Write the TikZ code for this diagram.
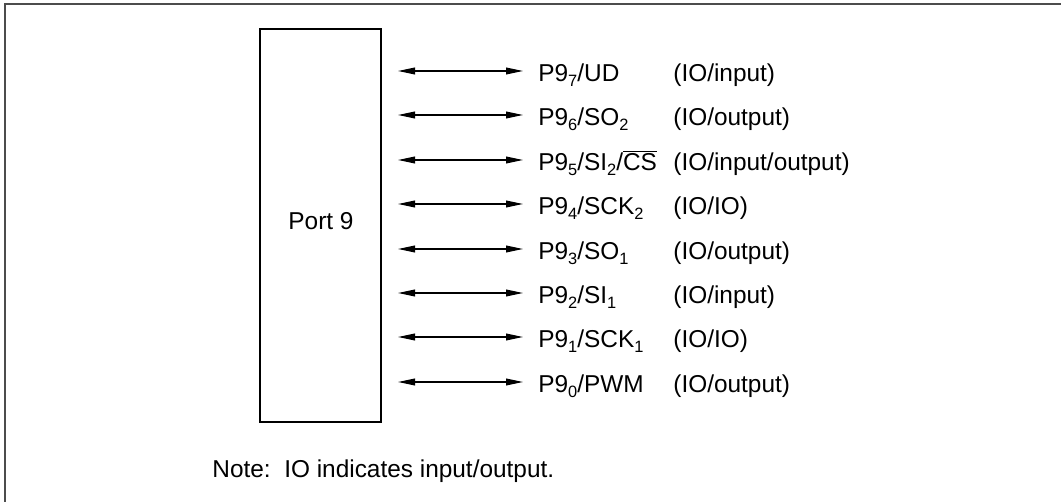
\documentclass[tikz,border=0pt]{standalone}
\usepackage{fontspec}
\setmainfont{Liberation Sans}
\usepackage{tikz}
\usetikzlibrary{
  arrows.meta,
  positioning,
}
\newcommand{\pinsub}[1]{\raisebox{-2.3bp}{\fontsize{8.2bp}{9bp}\selectfont #1}}

\begin{document}
\begin{tikzpicture}[
  x=0.5bp, y=-0.5bp,
  portbox/.style={
    draw, line width=1bp, minimum width=60.5bp, minimum height=196.5bp,
    inner sep=0pt,
  },
  pin/.style={anchor=base west, inner sep=0pt, font=\fontsize{12.2bp}{14bp}\selectfont},
  lbl/.style={inner sep=0pt, font=\fontsize{12.2bp}{14bp}\selectfont},
  sig/.style={{Triangle[length=8.5bp,width=3.4bp]}-{Triangle[length=8.5bp,width=3.4bp]}, line width=0.6bp},
  frame/.style={draw=black!70, line width=1.1bp},
]
\useasboundingbox (0,0) rectangle (1061,502);

% ── Frame (top and left only) ───────────────────────────────────────
\draw[frame] (5,502) -- (5,4) -- (1061,4);

% ── Port block ──────────────────────────────────────────────────────
\node[portbox] (port) at (320.5,225.5) {};
\node[lbl, anchor=base] (portname) at (321,230) {Port 9};

% ── Pin names ───────────────────────────────────────────────────────
\node[pin] (p7) at (538,82)  {P9\pinsub{7}/UD};
\node[pin] (p6) at (538,126) {P9\pinsub{6}/SO\pinsub{2}};
\node[pin] (p5) at (538,171) {P9\pinsub{5}/SI\pinsub{2}/$\overline{\hbox{CS}}$};
\node[pin] (p4) at (538,215) {P9\pinsub{4}/SCK\pinsub{2}};
\node[pin] (p3) at (538,260) {P9\pinsub{3}/SO\pinsub{1}};
\node[pin] (p2) at (538,304) {P9\pinsub{2}/SI\pinsub{1}};
\node[pin] (p1) at (538,348) {P9\pinsub{1}/SCK\pinsub{1}};
\node[pin] (p0) at (538,393) {P9\pinsub{0}/PWM};

% ── Pin functions ───────────────────────────────────────────────────
\node[pin] (f7) at (673,82)  {(IO/input)};
\node[pin] (f6) at (673,126) {(IO/output)};
\node[pin] (f5) at (673,171) {(IO/input/output)};
\node[pin] (f4) at (673,215) {(IO/IO)};
\node[pin] (f3) at (673,260) {(IO/output)};
\node[pin] (f2) at (673,304) {(IO/input)};
\node[pin] (f1) at (673,348) {(IO/IO)};
\node[pin] (f0) at (673,393) {(IO/output)};

% ── Arrow ends ──────────────────────────────────────────────────────
\coordinate (a7) at (398,71);  \coordinate (b7) at (523,71);
\coordinate (a6) at (398,115); \coordinate (b6) at (523,115);
\coordinate (a5) at (398,160); \coordinate (b5) at (523,160);
\coordinate (a4) at (398,204); \coordinate (b4) at (523,204);
\coordinate (a3) at (398,249); \coordinate (b3) at (523,249);
\coordinate (a2) at (398,293); \coordinate (b2) at (523,293);
\coordinate (a1) at (398,337); \coordinate (b1) at (523,337);
\coordinate (a0) at (398,382); \coordinate (b0) at (523,382);

% ── Connections ─────────────────────────────────────────────────────
\draw[sig] (a7) -- (b7);
\draw[sig] (a6) -- (b6);
\draw[sig] (a5) -- (b5);
\draw[sig] (a4) -- (b4);
\draw[sig] (a3) -- (b3);
\draw[sig] (a2) -- (b2);
\draw[sig] (a1) -- (b1);
\draw[sig] (a0) -- (b0);

% ── Note ────────────────────────────────────────────────────────────
\node[pin] (note) at (212,478) {Note:\ \ IO indicates input/output.};

\end{tikzpicture}
\end{document}
